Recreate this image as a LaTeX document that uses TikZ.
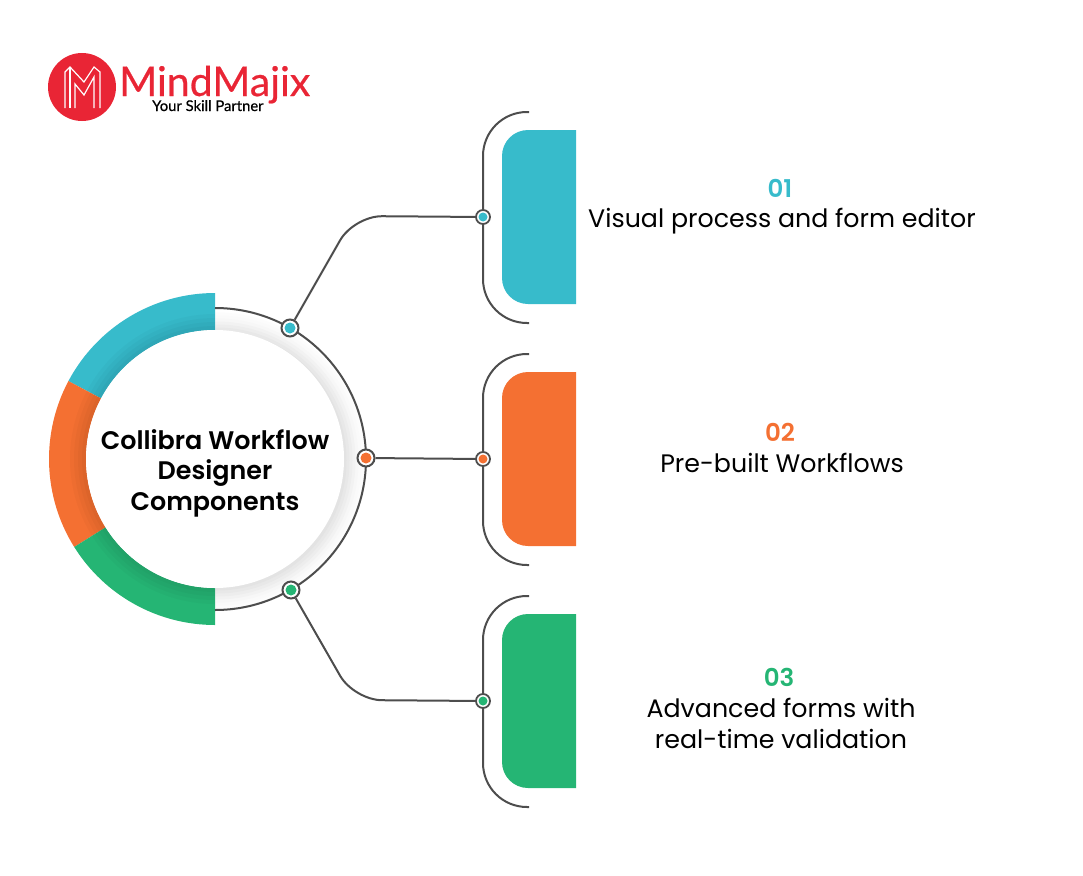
\documentclass[tikz,border=0pt]{standalone}
\usepackage{fontspec}
\setmainfont{Poppins}
\newfontfamily\titlefont{Poppins SemiBold}
\newfontfamily\logofont[FakeBold=0.5]{Lato}
\usetikzlibrary{positioning,calc}
\definecolor{tealbar}{HTML}{37BBCB}
\definecolor{orangebar}{HTML}{F47032}
\definecolor{greenbar}{HTML}{25B574}
\definecolor{wiregray}{HTML}{4D4D4D}
\definecolor{logored}{HTML}{E92535}
\tikzstyle{wire} = [wiregray, line width=2pt]
\tikzstyle{bigdot} = [circle, draw=wiregray, line width=2pt, fill=white, minimum size=17pt, inner sep=0pt,
    path picture={\fill[#1] (path picture bounding box.center) circle (5.5pt);}]
\tikzstyle{smalldot} = [circle, draw=wiregray, line width=1.8pt, fill=white, minimum size=14pt, inner sep=0pt,
    path picture={\fill[#1] (path picture bounding box.center) circle (4.5pt);}]
\tikzstyle{numtext} = [font=\titlefont\fontsize{24.5}{28}\selectfont]
\tikzstyle{bodytext} = [font=\fontsize{25.3}{31}\selectfont, align=center, black]
\tikzstyle{logoline} = [white, line width=1.2pt]
\begin{document}
\begin{tikzpicture}[x=1pt, y=-1pt]
		\useasboundingbox (0,0) rectangle (1083,875);

		% Ring
		\coordinate (centre) at (215,459);
		\foreach \r/\g in {151/0,148/1,145/2,142/3,139/5,136/7,133/9,130/11} {
			\fill[black!\g] ([xshift=1.5pt,yshift=-1.5pt]centre) circle (\r pt);
		}
		\fill[white] (centre) ++(-90:151pt) arc[start angle=-90, end angle=-270, radius=151pt] -- cycle;
		\foreach \a/\b/\c in {90/152/tealbar, 152/212/orangebar, 212/270/greenbar} {
			\fill[\c] ($(centre)+(\a:166pt)$) arc[start angle=\a, end angle=\b, radius=166pt]
				-- ($(centre)+(\b:129pt)$) arc[start angle=\b, end angle=\a, radius=129pt] -- cycle;
		}
		% darker inner edge of the coloured part
		\foreach \w in {8,16,24,32} {
			\draw[black, opacity=0.025, line width=\w pt] ($(centre)+(90:129pt)$) arc[start angle=90, end angle=270, radius=129pt];
		}
		\fill[white] (centre) circle (129pt);
		\draw[wire] ($(centre)+(90:151pt)$) arc[start angle=90, end angle=-90, radius=151pt];

		% Centre title
		\node[font=\titlefont\fontsize{25.4}{30.5}\selectfont, align=center] (title) at (215,473) {Collibra Workflow\\Designer\\Components};

		% Bars and brackets
		\foreach \y/\c in {0/tealbar, 242/orangebar, 484/greenbar} {
			\fill[\c, rounded corners=26pt] (576,130+\y) -- (502,130+\y) -- (502,304+\y) -- (576,304+\y);
			\draw[wire, rounded corners=44pt] (529,112+\y) -- (483,112+\y) -- (483,323+\y) -- (529,323+\y);
		}

		% Dots
		\node[bigdot=tealbar] (ring1) at (290,328) {};
		\node[bigdot=orangebar] (ring2) at (366,458) {};
		\node[bigdot=greenbar] (ring3) at (291,590) {};
		\node[smalldot=tealbar] (brack1) at (483,217) {};
		\node[smalldot=orangebar] (brack2) at (483,459) {};
		\node[smalldot=greenbar] (brack3) at (483,701) {};

		% Connectors
		\coordinate (bend1) at (354,216);
		\coordinate (bend3) at (354,700);
		\draw[wire, rounded corners=28pt] (ring1) -- (bend1) -- (brack1);
		\draw[wire] (ring2) -- (brack2);
		\draw[wire, rounded corners=28pt] (ring3) -- (bend3) -- (brack3);

		% Labels
		\node[numtext, tealbar] (num1) at (780,188) {01};
		\node[bodytext, below=4pt of num1.south, xshift=2pt] (text1) {Visual process and form editor};
		\node[numtext, orangebar] (num2) at (780,432) {02};
		\node[bodytext, below=5pt of num2.south, xshift=2pt] (text2) {Pre-built Workflows};
		\node[numtext, greenbar] (num3) at (779,677) {03};
		\node[bodytext, below=5pt of num3.south, xshift=2pt] (text3) {Advanced forms with\\real-time validation};

		% Logo
		\fill[logored] (82,87) circle (34pt);
		\draw[logoline] (65,108) -- (65,72) -- (70,67) -- (84,82) -- (94,67) -- (100,72) -- (100,108);
		\draw[logoline] (70,67) -- (70,108);
		\draw[logoline] (75,108) -- (75,84) -- (84,95) -- (94,77) -- (94,108);
		\node[logored, font=\logofont\fontsize{41}{41}\selectfont, anchor=base west, inner sep=0pt, text depth=0pt] (brand) at (119,96) {MindMajix};
		\node[black, font=\logofont\fontsize{14.8}{15}\selectfont, anchor=base west, inner sep=0pt] (tagline) at (152,111) {Your Skill Partner};
	\end{tikzpicture}
\end{document}
